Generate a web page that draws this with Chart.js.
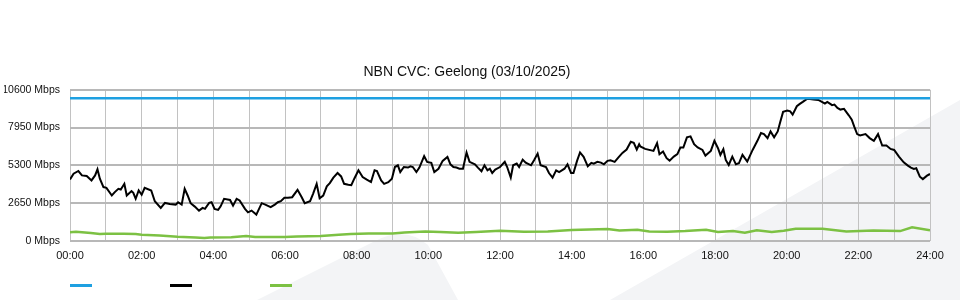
<!DOCTYPE html>
<html>
<head>
<meta charset="utf-8">
<script src="https://cdn.jsdelivr.net/npm/chart.js@4.4.1/dist/chart.umd.min.js"></script>
<style>
  html, body { margin: 0; padding: 0; background: #fff; }
</style>
</head>
<body>
<canvas id="cvc" width="960" height="300"></canvas>
<script>
// Axis ticks
const yTicks = [0, 2650, 5300, 7950, 10600];
const hourLabels = ["00:00", "02:00", "04:00", "06:00", "08:00", "10:00", "12:00",
                    "14:00", "16:00", "18:00", "20:00", "22:00", "24:00"];

// Capacity (blue)
const capMinutes = [0, 1440];
const capMbps    = [10000, 10000];

// Traffic (black) - minutes past midnight / Mbps
const blackMinutes = [
  0, 6, 14, 20, 28, 36, 42, 46, 50, 56, 61, 70, 75, 81, 85, 91, 95, 103, 106, 110,
  115, 120, 125, 136, 142, 152, 159, 167, 177, 181, 187, 192, 197, 202, 209, 216, 222, 226, 233, 237,
  242, 248, 252, 258, 268, 273, 279, 284, 293, 298, 304, 312, 321, 327, 336, 343, 348, 353, 359, 365,
  372, 381, 388, 393, 402, 407, 413, 418, 424, 430, 435, 441, 448, 454, 459, 466, 471, 476, 483, 490,
  497, 504, 510, 514, 521, 526, 533, 539, 544, 549, 553, 559, 566, 570, 574, 580, 585, 593, 598, 605,
  610, 617, 624, 632, 637, 642, 647, 652, 658, 664, 669, 678, 683, 689, 694, 699, 703, 707, 712, 720,
  728, 732, 738, 742, 748, 752, 758, 763, 772, 777, 783, 788, 797, 802, 808, 814, 819, 828, 833, 839,
  843, 849, 854, 860, 867, 873, 877, 883, 889, 894, 900, 905, 912, 918, 925, 932, 939, 944, 949, 953,
  955, 963, 977, 983, 987, 993, 999, 1004, 1011, 1017, 1022, 1027, 1033, 1039, 1045, 1051, 1059, 1064, 1073, 1079,
  1085, 1089, 1094, 1098, 1103, 1109, 1115, 1120, 1126, 1134, 1143, 1151, 1157, 1162, 1168, 1173, 1179, 1185, 1189, 1194,
  1201, 1206, 1210, 1217, 1222, 1227, 1234, 1239, 1245, 1253, 1259, 1264, 1268, 1273, 1276, 1280, 1285, 1290, 1296, 1304,
  1309, 1313, 1318, 1323, 1332, 1339, 1346, 1353, 1360, 1367, 1374, 1380, 1388, 1396, 1403, 1408, 1413, 1417, 1423, 1428,
  1435, 1440
];
const blackMbps = [
  4310, 4710, 4900, 4590, 4550, 4240, 4590, 5020, 4360, 3770, 3720, 3180, 3420, 3650, 3600, 4000, 3180, 3490, 3370, 2950,
  3530, 3230, 3720, 3530, 2780, 2310, 2660, 2590, 2540, 2710, 2540, 3650, 3180, 2640, 2400, 2120, 2310, 2240, 2660, 2710,
  2240, 2170, 2400, 2950, 2870, 2470, 2950, 2830, 2240, 2000, 2120, 1840, 2640, 2540, 2360, 2540, 2710, 2780, 3020, 3020,
  3060, 3580, 3060, 2640, 2780, 3300, 4000, 2990, 3180, 3820, 4050, 4430, 4760, 4520, 4000, 3930, 3900, 4360, 4950, 4480,
  4290, 4120, 4950, 4900, 4240, 4000, 4120, 4360, 5180, 5300, 4830, 5180, 5140, 5230, 5180, 4830, 5140, 5940, 5540, 5470,
  4830, 5060, 5610, 5890, 5370, 5180, 5140, 5060, 5060, 6200, 5540, 5370, 5140, 4880, 5300, 4950, 5060, 4760, 5000, 5180,
  5540, 5180, 4430, 5300, 5420, 5180, 5700, 5490, 5300, 5650, 6120, 5300, 5180, 4760, 4430, 4950, 4830, 5060, 5370, 4760,
  4760, 5610, 6200, 5890, 5230, 5470, 5420, 5540, 5490, 5370, 5610, 5650, 5540, 5840, 6170, 6410, 6950, 6880, 6410, 6780,
  6620, 6450, 6310, 6860, 6080, 6270, 5800, 5630, 5910, 6080, 6550, 6550, 7260, 7330, 6780, 6550, 6380, 5980, 6310, 7020,
  6500, 6030, 6430, 5680, 5320, 5910, 5370, 5440, 6030, 5560, 6380, 7020, 7560, 7490, 7210, 7680, 7260, 7680, 8300, 9050,
  9140, 9090, 8860, 9450, 9610, 9750, 9960, 9960, 9920, 9890, 9750, 9630, 9750, 9610, 9520, 9560, 9330, 9210, 9260, 8810,
  8500, 8030, 7490, 7400, 7490, 7210, 7020, 7490, 6690, 6690, 6450, 6380, 5910, 5510, 5280, 5140, 5040, 5090, 4500, 4330,
  4570, 4690
];

// Green series
const greenMinutes = [0, 10, 20, 35, 50, 60, 90, 110, 120, 150, 180, 210, 225, 235, 270, 295, 310, 360, 380, 420,
  450, 470, 500, 540, 560, 595, 620, 650, 680, 720, 760, 800, 840, 870, 900, 920, 950, 970, 1000, 1030,
  1065, 1085, 1110, 1130, 1150, 1175, 1195, 1215, 1260, 1300, 1345, 1390, 1410, 1440];
const greenMbps = [600, 640, 600, 540, 470, 500, 500, 470, 420, 380, 280, 240, 200, 240, 250, 330, 260, 260, 300, 330,
  420, 470, 510, 520, 590, 650, 620, 560, 620, 700, 640, 660, 760, 790, 820, 720, 780, 650, 640, 680,
  770, 620, 680, 570, 740, 620, 700, 840, 850, 660, 720, 680, 950, 740];

const pts = (xs, ys) => xs.map((x, i) => ({ x, y: ys[i] }));

// faint background swoosh
const watermark = {
  id: "watermark",
  beforeDraw(chart) {
    const ctx = chart.ctx;
    ctx.save();
    ctx.fillStyle = "#f3f4f6";
    ctx.beginPath();
    ctx.moveTo(257, 300);
    ctx.lineTo(375, 241);
    ctx.quadraticCurveTo(405, 225, 428, 245);
    ctx.lineTo(458, 300);
    ctx.closePath();
    ctx.fill();
    ctx.beginPath();
    ctx.moveTo(610, 300);
    ctx.lineTo(960, 100);
    ctx.lineTo(960, 300);
    ctx.closePath();
    ctx.fill();
    ctx.restore();
  }
};

// legend: colour swatches only
const swatchLegend = {
  id: "swatchLegend",
  afterDraw(chart) {
    const ctx = chart.ctx;
    const left = chart.chartArea.left;
    ctx.save();
    ctx.lineWidth = 3;
    chart.data.datasets.forEach((ds, i) => {
      ctx.strokeStyle = ds.borderColor;
      ctx.beginPath();
      ctx.moveTo(left + i * 100, 285.5);
      ctx.lineTo(left + i * 100 + 22, 285.5);
      ctx.stroke();
    });
    ctx.restore();
  }
};

const family = "'Liberation Sans', Arial, sans-serif";

new Chart(document.getElementById("cvc"), {
  type: "line",
  data: {
    datasets: [
      { label: "Capacity", data: pts(capMinutes, capMbps), borderColor: "#1ea0e1", borderWidth: 2.5 },
      { label: "Traffic", data: pts(blackMinutes, blackMbps), borderColor: "#000000", borderWidth: 2 },
      { label: "Other", data: pts(greenMinutes, greenMbps), borderColor: "#7cc143", borderWidth: 2.5 }
    ]
  },
  options: {
    responsive: false,
    animation: false,
    layout: { padding: { left: 4, right: 30, top: 0, bottom: 28 } },
    elements: { point: { radius: 0 }, line: { tension: 0 } },
    plugins: {
      legend: { display: false },
      tooltip: { enabled: false },
      title: {
        display: true,
        text: "NBN CVC: Geelong (03/10/2025)",
        color: "#111",
        font: { family, size: 14, weight: "normal" },
        padding: { top: 64, bottom: 9 }
      }
    },
    scales: {
      x: {
        type: "linear",
        min: 0,
        max: 1440,
        afterBuildTicks: s => { s.ticks = hourLabels.flatMap((_, i) => i < 12 ? [{ value: i * 120 }, { value: i * 120 + 60 }] : [{ value: 1440 }]); },
        ticks: {
          autoSkip: false,
          maxRotation: 0,
          padding: 9,
          color: "#111",
          font: { family, size: 11 },
          callback: v => v % 120 === 0 ? hourLabels[v / 120] : ""
        },
        grid: { color: "#c2c2c2", lineWidth: 1, drawTicks: false },
        border: { display: false }
      },
      y: {
        min: 0,
        max: 10600,
        afterBuildTicks: s => { s.ticks = yTicks.map(v => ({ value: v })); },
        afterFit: s => { s.width = 66; },
        ticks: { padding: 10, color: "#111", font: { family, size: 10.5 }, callback: v => v + " Mbps" },
        grid: { color: "#b8b8b8", lineWidth: 2, drawTicks: false },
        border: { display: false }
      }
    }
  },
  plugins: [watermark, swatchLegend]
});
</script>
</body>
</html>
